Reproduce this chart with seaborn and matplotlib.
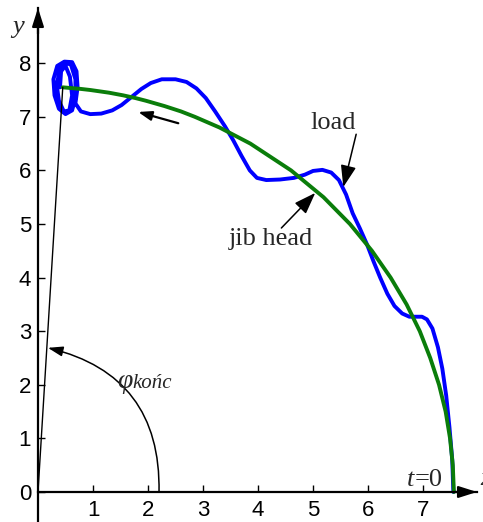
import matplotlib
matplotlib.use("Agg")
import matplotlib.pyplot as plt
import seaborn as sns
import pandas as pd

# --- data ---
load_x = [7.55, 7.53, 7.48, 7.42, 7.35, 7.27, 7.17, 7.07, 6.98, 6.85, 6.75, 6.62,
          6.48, 6.35, 6.22, 6.10, 5.98, 5.85, 5.72, 5.60, 5.47, 5.33, 5.17, 5.00,
          4.85, 4.65, 4.40, 4.15, 3.98, 3.85, 3.70, 3.55, 3.40, 3.22, 3.05, 2.88,
          2.70, 2.50, 2.25, 2.05, 1.88, 1.70, 1.52, 1.35, 1.15, 0.95, 0.78,
          0.68, 0.72, 0.70, 0.62, 0.48, 0.35, 0.28, 0.30, 0.38, 0.50, 0.62, 0.68,
          0.68, 0.60, 0.48, 0.40, 0.34, 0.38, 0.47, 0.57, 0.62, 0.58, 0.50, 0.42, 0.40]
load_y = [0.00, 0.60, 1.20, 1.80, 2.30, 2.70, 3.05, 3.22, 3.27, 3.27, 3.27, 3.33,
          3.47, 3.70, 4.00, 4.30, 4.62, 4.92, 5.20, 5.55, 5.82, 5.96, 6.01, 5.99,
          5.92, 5.86, 5.83, 5.82, 5.86, 6.00, 6.27, 6.56, 6.82, 7.10, 7.35, 7.53,
          7.65, 7.70, 7.70, 7.63, 7.52, 7.37, 7.22, 7.12, 7.06, 7.05, 7.10,
          7.25, 7.55, 7.85, 8.02, 8.03, 7.95, 7.70, 7.40, 7.15, 7.05, 7.12, 7.35,
          7.70, 7.97, 8.02, 7.90, 7.60, 7.30, 7.10, 7.12, 7.40, 7.75, 7.95, 7.85, 7.55]

jib_x = [7.56, 7.54, 7.49, 7.41, 7.29, 7.13, 6.94, 6.70, 6.41, 6.07, 5.67, 5.19,
         4.60, 3.86, 3.30, 2.85, 2.60, 2.30, 1.96, 1.77, 1.55, 1.29, 0.95, 0.78, 0.45]
jib_y = [0.00, 0.50, 1.00, 1.50, 2.00, 2.50, 3.00, 3.50, 4.00, 4.50, 5.00, 5.50,
         6.00, 6.50, 6.80, 7.00, 7.10, 7.20, 7.30, 7.35, 7.40, 7.45, 7.50, 7.52, 7.55]

x_ticks = [1, 2, 3, 4, 5, 6, 7]
y_ticks = [0, 1, 2, 3, 4, 5, 6, 7, 8]

load_df = pd.DataFrame({"x": load_x, "y": load_y})
jib_df = pd.DataFrame({"x": jib_x, "y": jib_y})

sns.set_style("white")
plt.rcParams["font.family"] = ["Liberation Sans", "DejaVu Sans"]

fig = plt.figure(figsize=(4.83, 5.22), dpi=100)
ax = fig.add_axes([38 / 483, 0.0, (477 - 38) / 483, (522 - 8) / 522])

sns.lineplot(data=load_df, x="x", y="y", sort=False, estimator=None,
             color="#0000ff", lw=2.8, ax=ax, solid_joinstyle="round",
             solid_capstyle="round")
sns.lineplot(data=jib_df, x="x", y="y", sort=False, estimator=None,
             color="#0a7d0a", lw=2.8, ax=ax, solid_joinstyle="round")

ax.set_xlim(0, 7.98)
ax.set_ylim(-0.56, 9.03)
ax.set_xlabel("")
ax.set_ylabel("")

# axes through origin
for s in ["top", "right"]:
    ax.spines[s].set_visible(False)
ax.spines["bottom"].set_position(("data", 0))
ax.spines["left"].set_position(("data", 0))
for s in ["bottom", "left"]:
    ax.spines[s].set_color("black")
    ax.spines[s].set_linewidth(1.6)

ax.set_xticks(x_ticks)
ax.set_yticks(y_ticks)
ax.tick_params(axis="x", direction="in", length=5, width=1, pad=6, labelsize=16, colors="black")
ax.tick_params(axis="y", direction="in", length=5, width=1, pad=5, labelsize=16, colors="black")
ax.xaxis.set_ticks_position("bottom")
ax.yaxis.set_ticks_position("left")

# arrowheads of the axes
head = "-|>,head_length=1.1,head_width=0.35"
ax.annotate("", xy=(1.0, 0), xycoords=("axes fraction", "data"),
            xytext=(0.95, 0), textcoords=("axes fraction", "data"),
            arrowprops=dict(arrowstyle=head, color="black", lw=1.6,
                            shrinkA=0, shrinkB=0),
            annotation_clip=False)
ax.annotate("", xy=(0, 1.0), xycoords=("data", "axes fraction"),
            xytext=(0, 0.95), textcoords=("data", "axes fraction"),
            arrowprops=dict(arrowstyle=head, color="black", lw=1.6,
                            shrinkA=0, shrinkB=0),
            annotation_clip=False)

serif = ["Liberation Serif", "DejaVu Serif"]

# axis names
ax.text(-0.36, 8.67, "y", fontsize=19, style="italic", family=serif,
        ha="center", va="center", clip_on=False)
ax.text(8.04, 0.25, "x", fontsize=19, style="italic", family=serif,
        ha="left", va="center", clip_on=False)

# final jib position line and angle arc
ax.plot([0, 0.45], [0, 7.55], color="black", lw=1.0)
ax.annotate("", xy=(0.18, 2.69), xytext=(2.2, 0.0),
            arrowprops=dict(arrowstyle="-|>,head_length=0.9,head_width=0.3",
                            connectionstyle="arc3,rad=0.4",
                            color="black", lw=1.1, shrinkA=0, shrinkB=0))
ax.text(1.44, 1.94, "φ", fontsize=20, style="italic", family=serif,
        ha="left", va="baseline")
ax.text(1.72, 1.94, "końc", fontsize=15, style="italic", family=serif,
        ha="left", va="baseline")

# direction arrow
ax.annotate("", xy=(1.82, 7.09), xytext=(2.55, 6.88),
            arrowprops=dict(arrowstyle="-|>,head_length=0.8,head_width=0.28",
                            color="black", lw=1.6, shrinkA=0, shrinkB=0))

# labels
ax.annotate("load", xy=(5.55, 5.69), xytext=(5.37, 6.88), fontsize=19,
            family=serif, ha="center", va="center",
            arrowprops=dict(arrowstyle="-|>,head_length=0.7,head_width=0.25",
                            color="black", lw=1.1, shrinkA=0, shrinkB=0,
                            relpos=(1.0, 0.0), patchA=None))
ax.annotate("jib head", xy=(5.04, 5.58), xytext=(4.24, 4.72), fontsize=19,
            family=serif, ha="center", va="center",
            arrowprops=dict(arrowstyle="-|>,head_length=0.7,head_width=0.25",
                            color="black", lw=1.1, shrinkA=0, shrinkB=0,
                            relpos=(0.62, 1.0), patchA=None))

ax.text(6.71, 0.12, "t", fontsize=19, style="italic", family=serif,
        ha="left", va="baseline")
ax.text(6.84, 0.12, "=0", fontsize=19, family=serif, ha="left", va="baseline")

fig.savefig("out.png", dpi=100)
